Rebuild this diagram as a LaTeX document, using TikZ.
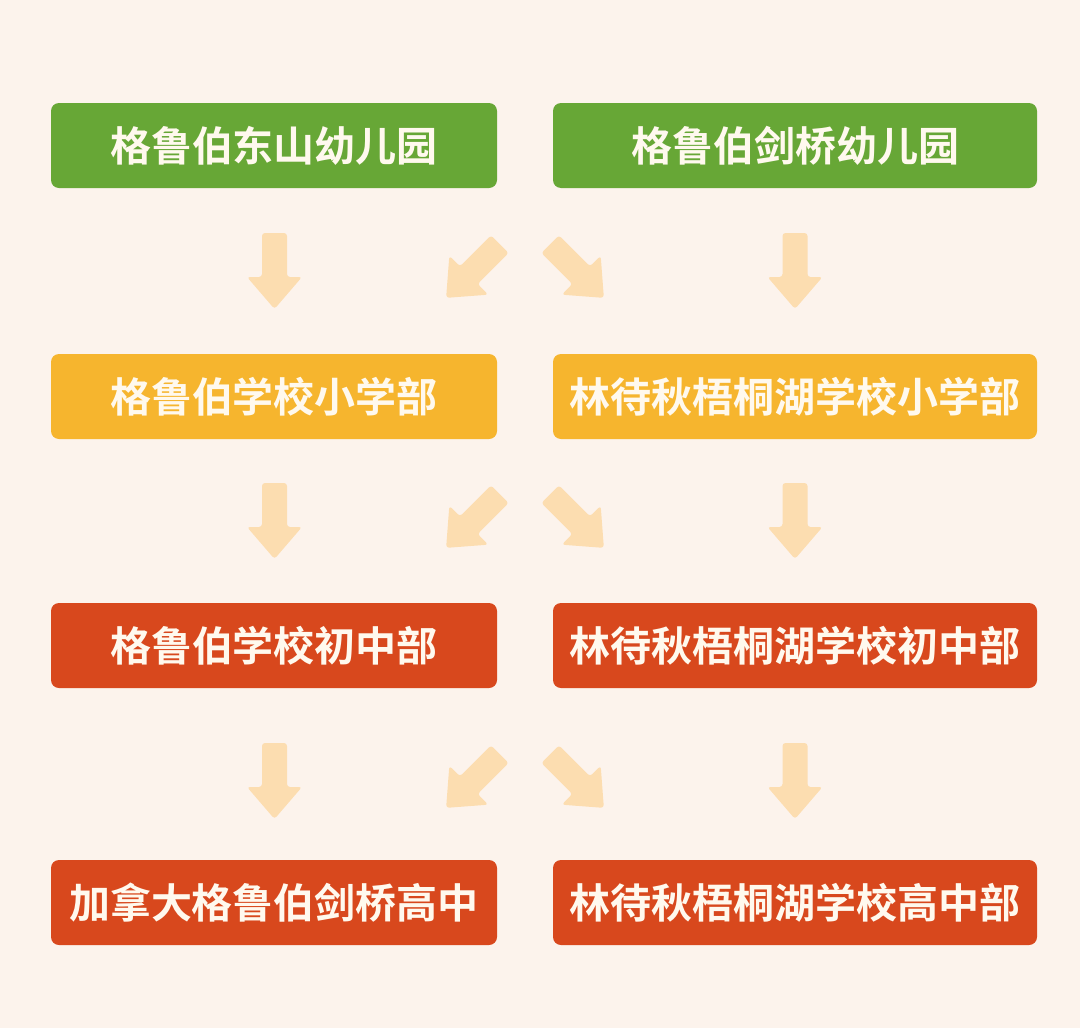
\documentclass[tikz,border=0pt]{standalone}
\usepackage{fontspec}
\newfontfamily\cjk{Noto Sans CJK SC Bold}
\definecolor{bgc}{HTML}{FCF3EC}
\definecolor{greenc}{HTML}{67A736}
\definecolor{yellowc}{HTML}{F6B52E}
\definecolor{redc}{HTML}{D8481D}
\definecolor{arrowc}{HTML}{FCDDB0}
\definecolor{textc}{HTML}{FFF9EE}
\begin{document}
\begin{tikzpicture}[x=1pt,y=1pt,
  box/.style={rounded corners=8pt, inner sep=0pt, text=textc,
    font=\cjk\fontsize{41}{44}\selectfont, anchor=center},
  lbox/.style={box, minimum width=446pt, minimum height=85pt},
  rbox/.style={box, minimum width=484pt, minimum height=85pt},
  blockarrow/.style={fill=arrowc, rounded corners=3pt}
]
\useasboundingbox (0,0) rectangle (1080,-1028);
\fill[bgc] (0,0) rectangle (1080,-1028);

\node[lbox, fill=greenc] (a1) at (274,-145.5) {格鲁伯东山幼儿园};
\node[rbox, fill=greenc] (b1) at (795,-145.5) {格鲁伯剑桥幼儿园};
\node[lbox, fill=yellowc] (a2) at (274,-396.5) {格鲁伯学校小学部};
\node[rbox, fill=yellowc] (b2) at (795,-396.5) {林待秋梧桐湖学校小学部};
\node[lbox, fill=redc] (a3) at (274,-645.5) {格鲁伯学校初中部};
\node[rbox, fill=redc] (b3) at (795,-645.5) {林待秋梧桐湖学校初中部};
\node[lbox, fill=redc] (a4) at (274,-902.5) {加拿大格鲁伯剑桥高中};
\node[rbox, fill=redc] (b4) at (795,-902.5) {林待秋梧桐湖学校高中部};

\newcommand{\downblock}[3]{%
  \fill[blockarrow, shift={(#1,#2)}, rotate=#3]
    (-12.5,38) -- (12.5,38) -- (12.5,-6) -- (27.5,-6) -- (0,-38)
    -- (-27.5,-6) -- (-12.5,-6) -- cycle;}

\foreach \yy in {-271,-521,-781}{
  \downblock{274.5}{\yy}{0}
  \downblock{795}{\yy}{0}
  \downblock{473}{\yy}{-45}
  \downblock{577}{\yy}{45}
}
\end{tikzpicture}
\end{document}
